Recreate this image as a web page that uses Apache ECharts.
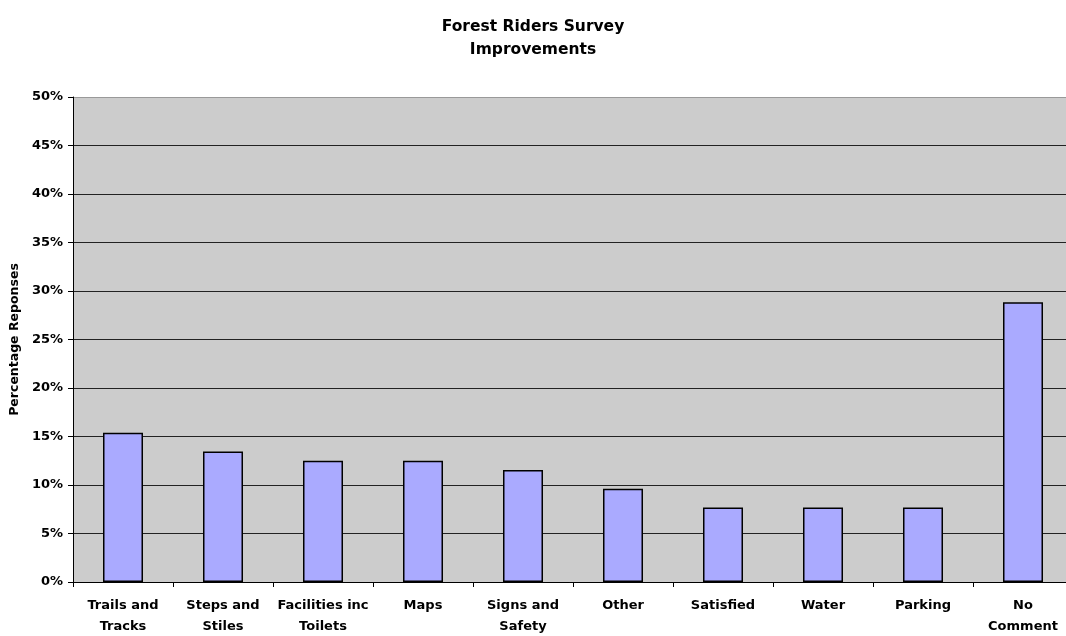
<!DOCTYPE html>
<html><head><meta charset="utf-8">
<script src="https://cdn.jsdelivr.net/npm/echarts@6/dist/echarts.min.js"></script>
<style>html,body{margin:0;padding:0;background:#fff}#c{width:1066px;height:636px}</style>
</head><body><div id="c"></div>
<script>
const categories = ['Trails and\nTracks','Steps and\nStiles','Facilities inc\nToilets','Maps','Signs and\nSafety','Other','Satisfied','Water','Parking','No\nComment'];
const values = [15.38, 13.46, 12.5, 12.5, 11.54, 9.62, 7.69, 7.69, 7.69, 28.85];
const yTicks = [0,5,10,15,20,25,30,35,40,45,50];
const font = '"DejaVu Sans", sans-serif';
const chart = echarts.init(document.getElementById('c'));
chart.setOption({
  animation: false,
  title: {
    text: 'Forest Riders Survey\nImprovements',
    left: 'center', top: 10,
    textStyle: {fontFamily: font, fontWeight: 'bold', fontSize: 15.5, lineHeight: 23, color: '#000'}
  },
  grid: {left: 73, right: -7, top: 97, bottom: 54, outerBoundsMode: 'none', containLabel: false, show: true, backgroundColor: '#cccccc', borderWidth: 0},
  xAxis: {
    type: 'category', data: categories,
    axisLine: {lineStyle: {color: '#000', width: 1}},
    axisTick: {show: true, alignWithLabel: false, length: 5, lineStyle: {color: '#000'}},
    axisLabel: {interval: 0, fontFamily: font, fontWeight: 'bold', fontSize: 13, color: '#000', lineHeight: 21, margin: 13}
  },
  yAxis: {
    type: 'value', min: 0, max: 50, interval: 5,
    name: 'Percentage Reponses', nameLocation: 'middle', nameGap: 52, nameRotate: 90,
    nameTextStyle: {fontFamily: font, fontWeight: 'bold', fontSize: 12.5, color: '#000'},
    axisLine: {show: true, lineStyle: {color: '#000'}},
    axisTick: {show: true, length: 5, lineStyle: {color: '#000'}},
    axisLabel: {formatter: v => yTicks.includes(v) ? v + '%' : '', fontFamily: font, fontWeight: 'bold', fontSize: 13, color: '#000', margin: 10},
    splitLine: {show: true, lineStyle: {color: ['#222','#222','#222','#222','#222','#222','#222','#222','#222','#222','#999'], width: 1}}
  },
  series: [{
    type: 'bar', data: values, barWidth: 40,
    itemStyle: {color: '#aaaaff', borderColor: '#000', borderWidth: 1.5}
  }]
});
</script></body></html>
